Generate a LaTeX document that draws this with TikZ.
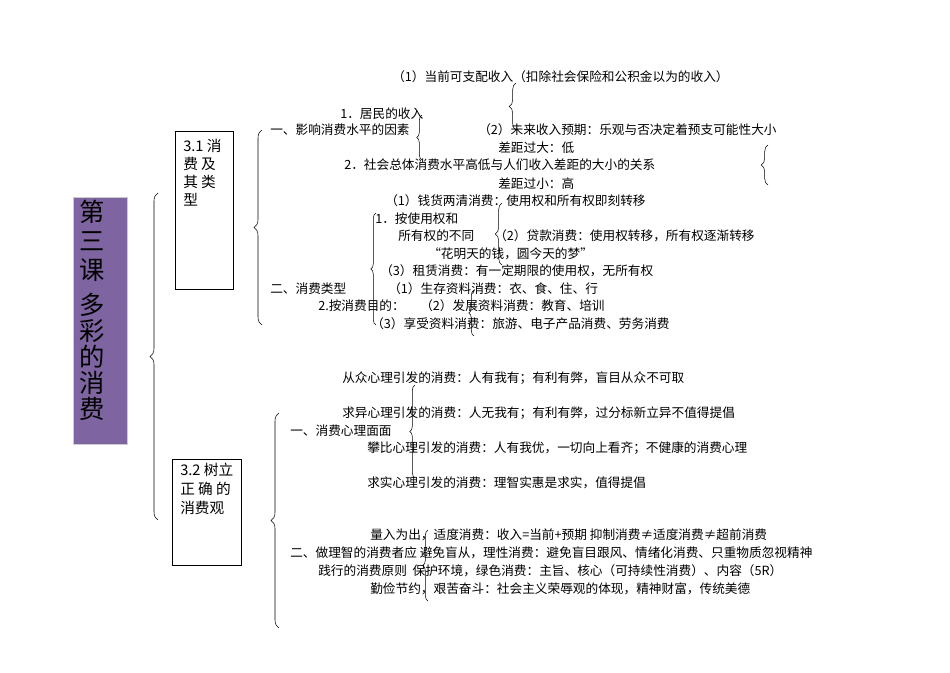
\documentclass[tikz,border=0pt]{standalone}
\usepackage{fontspec}
\setmainfont{Noto Sans CJK SC}
\usetikzlibrary{decorations.pathreplacing}
\definecolor{purp}{HTML}{7E64A0}
\begin{document}
\begin{tikzpicture}[x=0.75pt,y=-0.75pt,
  t/.style={anchor=west,inner sep=0pt,font=\fontsize{9.5}{11}\selectfont},
  br/.style={draw,thin,decorate,decoration={brace,amplitude=#1}},
  br/.default=4,
  box/.style={draw,thin,anchor=north west,inner sep=0pt}]
\useasboundingbox (0,0) rectangle (950,672);
% purple title box
\node[fill=purp,draw=gray!40,minimum width=54*0.75pt,minimum height=247*0.75pt,anchor=north west,inner sep=0pt] (title) at (73,197) {};
\foreach \c/\y in {第/212,三/241,课/270,多/305,彩/331,的/357,消/383,费/409}
  \node[font=\fontsize{19}{19}\selectfont,inner sep=0pt] at (92,\y) {\c};
% main brace
\draw[br=6] (158,520) -- (158,193);
% 3.1 box
\node[box,minimum width=58*0.75pt,minimum height=158*0.75pt] (b31) at (175,131) {};
\node[anchor=north west,inner sep=0pt,font=\fontsize{11}{13.5}\selectfont,align=left] at (183,139) {3.1 消\\费\ 及\\其\ 类\\型};
% 3.2 box
\node[box,minimum width=69*0.75pt,minimum height=106*0.75pt] (b32) at (172,459) {};
\node[anchor=north west,inner sep=0pt,font=\fontsize{11}{14}\selectfont,align=left] at (180,463) {3.2 树立\\正 确 的\\消费观};
% group braces
\draw[br=6] (262,325) -- (262,130);
\draw[br=6] (279,628) -- (279,413);
% small braces
\draw[br=5] (516,130) -- (516,83);
\draw[br=4] (422,160) -- (422,115);
\draw[br=5] (768,185) -- (768,145);
\draw[br=5] (502,265) -- (502,203);
\draw[br=4] (376,325) -- (376,213);
\draw[br=4] (474,336) -- (474,290);
\draw[br=4] (415,478) -- (415,385);
\draw[br=4] (428,601) -- (428,530);
% texts
\node[t] (a1) at (392,77) {（1）当前可支配收入（扣除社会保险和公积金以为的收入）};
\node[t] (a2) at (340,114) {1．居民的收入};
\node[t] (a3) at (270,130) {一、影响消费水平的因素};
\node[t] (a4) at (478,130) {（2）未来收入预期：乐观与否决定着预支可能性大小};
\node[t] (a5) at (498,148) {差距过大：低};
\node[t] (a6) at (344,165) {2．社会总体消费水平高低与人们收入差距的大小的关系};
\node[t] (a7) at (498,184) {差距过小：高};
\node[t] (a8) at (385,201) {（1）钱货两清消费：使用权和所有权即刻转移};
\node[t] (a9) at (375,219) {1．按使用权和};
\node[t] (a10) at (398,236) {所有权的不同};
\node[t] (a11) at (494,236) {（2）贷款消费：使用权转移，所有权逐渐转移};
\node[t] (a12) at (428,254) {“花明天的钱，圆今天的梦”};
\node[t] (a13) at (380,271) {（3）租赁消费：有一定期限的使用权，无所有权};
\node[t] (a14) at (270,289) {二、消费类型};
\node[t] (a15) at (388,289) {（1）生存资料消费：衣、食、住、行};
\node[t] (a16) at (318,306) {2.按消费目的：};
\node[t] (a17) at (420,306) {（2）发展资料消费：教育、培训};
\node[t] (a18) at (371,324) {（3）享受资料消费：旅游、电子产品消费、劳务消费};
\node[t] (c1) at (342,378) {从众心理引发的消费：人有我有；有利有弊，盲目从众不可取};
\node[t] (c2) at (342,413) {求异心理引发的消费：人无我有；有利有弊，过分标新立异不值得提倡};
\node[t] (c3) at (290,431) {一、消费心理面面};
\node[t] (c4) at (367,448) {攀比心理引发的消费：人有我优，一切向上看齐；不健康的消费心理};
\node[t] (c5) at (367,483) {求实心理引发的消费：理智实惠是求实，值得提倡};
\node[t] (d1) at (370,535) {量入为出，适度消费：收入=当前+预期\ 抑制消费≠适度消费≠超前消费};
\node[t] (d2) at (290,553) {二、做理智的消费者应\ 避免盲从，理性消费：避免盲目跟风、情绪化消费、只重物质忽视精神};
\node[t] (d3) at (318,571) {践行的消费原则\ \ 保护环境，绿色消费：主旨、核心（可持续性消费）、内容（5R）};
\node[t] (d4) at (370,589) {勤俭节约，艰苦奋斗：社会主义荣辱观的体现，精神财富，传统美德};
\end{tikzpicture}
\end{document}
